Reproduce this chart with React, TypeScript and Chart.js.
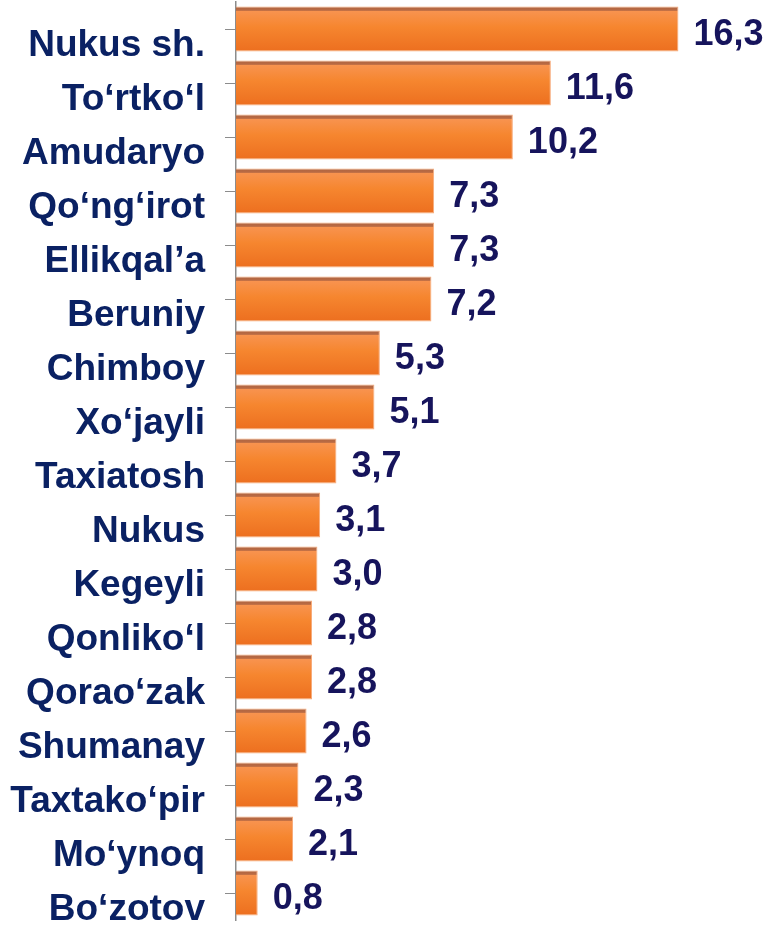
import React, { useEffect, useRef } from "react";
import { Chart, registerables } from "chart.js";

Chart.register(...registerables);

const CATEGORIES: string[] = [
  "Nukus sh.",
  "To‘rtko‘l",
  "Amudaryo",
  "Qo‘ng‘irot",
  "Ellikqal’a",
  "Beruniy",
  "Chimboy",
  "Xo‘jayli",
  "Taxiatosh",
  "Nukus",
  "Kegeyli",
  "Qonliko‘l",
  "Qorao‘zak",
  "Shumanay",
  "Taxtako‘pir",
  "Mo‘ynoq",
  "Bo‘zotov",
];

const VALUES: number[] = [16.3, 11.6, 10.2, 7.3, 7.3, 7.2, 5.3, 5.1, 3.7, 3.1, 3.0, 2.8, 2.8, 2.6, 2.3, 2.1, 0.8];

const X_MAX = 19.6;
const LABEL_COLOR = "#0a2163";
const VALUE_COLOR = "#16145c";
const FONT_FAMILY = '"Liberation Sans", Arial, sans-serif';
const BAR_PCT = 0.83;

const valueLabels = {
  id: "valueLabels",
  afterDatasetsDraw(chart: any) {
    const meta = chart.getDatasetMeta(0);
    const c = chart.ctx;
    c.save();
    c.font = `bold 36px ${FONT_FAMILY}`;
    c.fillStyle = VALUE_COLOR;
    c.textAlign = "left";
    c.textBaseline = "middle";
    meta.data.forEach((el: any, i: number) => {
      const v = VALUES[i];
      c.fillText(v.toFixed(1).replace(".", ","), el.x + 15, el.y + 6);
    });
    c.restore();
  },
};

export default function App() {
  const ref = useRef<HTMLCanvasElement | null>(null);

  useEffect(() => {
    document.body.style.margin = "0";
    if (!ref.current) return;
    const chart = new Chart(ref.current, {
      type: "bar",
      data: {
        labels: CATEGORIES,
        datasets: [
          {
            data: VALUES,
            backgroundColor: (ctx: any) => {
              const ch = ctx.chart;
              const y = ch.scales && ch.scales.y;
              if (!y || ctx.type !== "data") return "#f07a2a";
              const center = y.getPixelForValue(ctx.dataIndex);
              const half = ((y.height / CATEGORIES.length) * BAR_PCT) / 2;
              if (!isFinite(center) || !isFinite(half) || half <= 0) return "#f07a2a";
              const g = ch.ctx.createLinearGradient(0, center - half, 0, center + half);
              g.addColorStop(0, "#b06440");
              g.addColorStop(0.085, "#b96b44");
              g.addColorStop(0.1, "#f8934f");
              g.addColorStop(0.45, "#f6862f");
              g.addColorStop(0.97, "#ed7020");
              g.addColorStop(1, "#f39a5c");
              return g;
            },
            borderColor: "#f7ab7a",
            borderWidth: 1,
            borderSkipped: "left",
            categoryPercentage: 1,
            barPercentage: BAR_PCT,
          },
        ],
      },
      options: {
        indexAxis: "y",
        animation: false,
        responsive: true,
        maintainAspectRatio: false,
        layout: { padding: { top: 2, bottom: 5, left: 0, right: 0 } },
        plugins: {
          legend: { display: false },
          tooltip: { enabled: false },
          title: { display: false },
        },
        scales: {
          x: {
            display: false,
            min: 0,
            max: X_MAX,
          },
          y: {
            afterFit: (scale: any) => {
              scale.width = 236;
              scale.paddingTop = 0;
              scale.paddingBottom = 0;
            },
            border: { display: true, color: "#8c8c8c", width: 1.5 },
            grid: {
              display: true,
              drawOnChartArea: false,
              drawTicks: true,
              tickLength: 11,
              color: "#8c8c8c",
              lineWidth: 1,
              offset: false,
            },
            ticks: {
              autoSkip: false,
              color: LABEL_COLOR,
              padding: 20,
              labelOffset: 17,
              font: { family: FONT_FAMILY, size: 37, weight: "bold" },
            },
          },
        },
      },
      plugins: [valueLabels],
    } as any);
    return () => chart.destroy();
  }, []);

  return (
    <div style={{ width: 768, height: 925, position: "relative" }}>
      <canvas ref={ref} />
    </div>
  );
}
